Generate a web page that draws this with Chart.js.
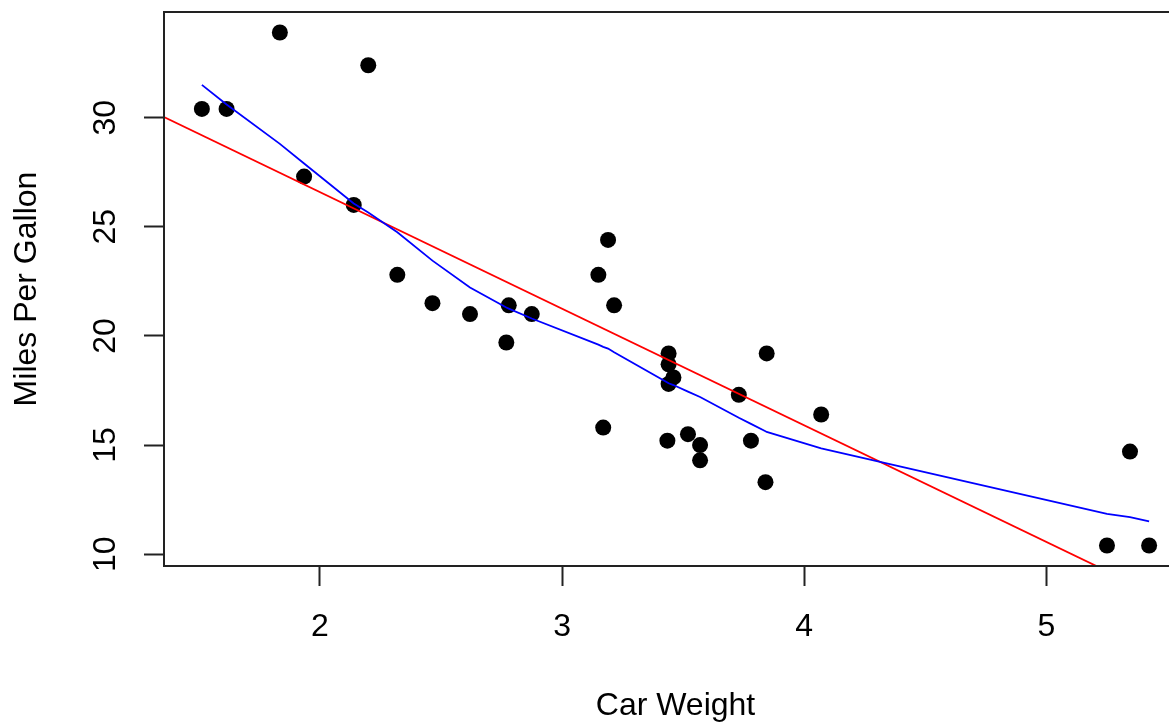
<!DOCTYPE html>
<html>
<head>
<meta charset="utf-8">
<title>Miles Per Gallon vs Car Weight</title>
<script src="https://cdn.jsdelivr.net/npm/chart.js@4/dist/chart.umd.min.js"></script>
<style>
  html, body { margin: 0; padding: 0; background: #ffffff; overflow: hidden; }
  #wrap { width: 1200px; height: 724px; }
</style>
</head>
<body>
<div id="wrap"><canvas id="chart" width="1200" height="724"></canvas></div>
<script>
// Car weight (1000 lbs) and fuel economy for each car
const weights = [2.620, 2.875, 2.320, 3.215, 3.440, 3.460, 3.570, 3.190, 3.150, 3.440,
                 3.440, 4.070, 3.730, 3.780, 5.250, 5.424, 5.345, 2.200, 1.615, 1.835,
                 2.465, 3.520, 3.435, 3.840, 3.845, 1.935, 2.140, 1.513, 3.170, 2.770,
                 3.570, 2.780];
const mpg = [21.0, 21.0, 22.8, 21.4, 18.7, 18.1, 14.3, 24.4, 22.8, 19.2,
             17.8, 16.4, 17.3, 15.2, 10.4, 10.4, 14.7, 32.4, 30.4, 33.9,
             21.5, 15.5, 15.2, 13.3, 19.2, 27.3, 26.0, 30.4, 15.8, 19.7,
             15.0, 21.4];

// Straight-line fit (red), given by its two ends across the plot
const fitX = [1.3566, 5.5804];
const fitY = [30.03, 7.46];

// Smoothed curve (blue) at the sorted weights
const smoothX = [1.513, 1.615, 1.835, 1.935, 2.140, 2.200, 2.320, 2.465, 2.620, 2.770,
                 2.780, 2.875, 3.150, 3.170, 3.190, 3.215, 3.435, 3.440, 3.460, 3.520,
                 3.570, 3.730, 3.780, 3.840, 3.845, 4.070, 5.250, 5.345, 5.424];
const smoothY = [31.5, 30.6, 28.8, 27.9, 26.07, 25.65, 24.75, 23.45, 22.22, 21.3,
                 21.25, 20.8, 19.6, 19.5, 19.42, 19.25, 17.87, 17.83, 17.75, 17.45,
                 17.2, 16.25, 15.97, 15.63, 15.6, 14.85, 11.85, 11.7, 11.5];

// Axis ranges and tick values
const xRange = [1.3566, 5.5804];
const yRange = [9.46, 34.84];
const xTicks = [2, 3, 4, 5];
const yTicks = [10, 15, 20, 25, 30];

const FONT = "'Liberation Sans', Arial, sans-serif";
const INK = '#222222';

const pts = weights.map((w, i) => ({ x: w, y: mpg[i] }));
const fitPts = fitX.map((x, i) => ({ x: x, y: fitY[i] }));
const smoothPts = smoothX.map((x, i) => ({ x: x, y: smoothY[i] }));

// Frame around the plotting region
const boxPlugin = {
  id: 'plotBox',
  afterDraw(chart) {
    const a = chart.chartArea;
    const ctx = chart.ctx;
    ctx.save();
    ctx.strokeStyle = INK;
    ctx.lineWidth = 2;
    ctx.strokeRect(a.left, a.top, a.right - a.left, a.bottom - a.top);
    ctx.restore();
  }
};

new Chart(document.getElementById('chart'), {
  type: 'scatter',
  data: {
    datasets: [
      {
        label: 'lowess',
        data: smoothPts,
        showLine: true,
        borderColor: '#0000ff',
        borderWidth: 1.8,
        pointRadius: 0,
        tension: 0,
        order: 0
      },
      {
        label: 'fit',
        data: fitPts,
        showLine: true,
        borderColor: '#ff0000',
        borderWidth: 1.8,
        pointRadius: 0,
        tension: 0,
        order: 1
      },
      {
        label: 'cars',
        data: pts,
        backgroundColor: '#000000',
        borderWidth: 0,
        pointRadius: 8,
        order: 2
      }
    ]
  },
  options: {
    responsive: false,
    animation: false,
    layout: { padding: { top: 12, right: 13, left: 0, bottom: 0 } },
    plugins: {
      legend: { display: false },
      tooltip: { enabled: false }
    },
    scales: {
      x: {
        type: 'linear',
        min: xRange[0],
        max: xRange[1],
        afterFit(scale) {
          scale.height = 158;
          scale.paddingLeft = 0;
          scale.paddingRight = 0;
        },
        afterBuildTicks(scale) { scale.ticks = xTicks.map(v => ({ value: v })); },
        grid: { drawOnChartArea: false, drawTicks: true, tickLength: 20, tickWidth: 2, tickColor: INK },
        border: { display: true, color: INK, width: 2 },
        ticks: {
          includeBounds: false,
          color: '#000000',
          padding: 22,
          font: { family: FONT, size: 32 },
          maxRotation: 0,
          minRotation: 0
        },
        title: {
          display: true,
          text: 'Car Weight',
          color: '#000000',
          font: { family: FONT, size: 32, lineHeight: 1 },
          padding: { top: 0, bottom: 2 }
        }
      },
      y: {
        type: 'linear',
        min: yRange[0],
        max: yRange[1],
        afterFit(scale) {
          scale.width = 164;
          scale.paddingTop = 0;
          scale.paddingBottom = 0;
        },
        afterBuildTicks(scale) { scale.ticks = yTicks.map(v => ({ value: v })); },
        grid: { drawOnChartArea: false, drawTicks: true, tickLength: 20, tickWidth: 2, tickColor: INK },
        border: { display: true, color: INK, width: 2 },
        ticks: {
          includeBounds: false,
          color: '#000000',
          padding: 20,
          crossAlign: 'center',
          minRotation: 90,
          maxRotation: 90,
          font: { family: FONT, size: 32 }
        },
        title: {
          display: true,
          text: 'Miles Per Gallon',
          color: '#000000',
          font: { family: FONT, size: 32, lineHeight: 1 },
          padding: { top: 11, bottom: 0 }
        }
      }
    }
  },
  plugins: [boxPlugin]
});
</script>
</body>
</html>
